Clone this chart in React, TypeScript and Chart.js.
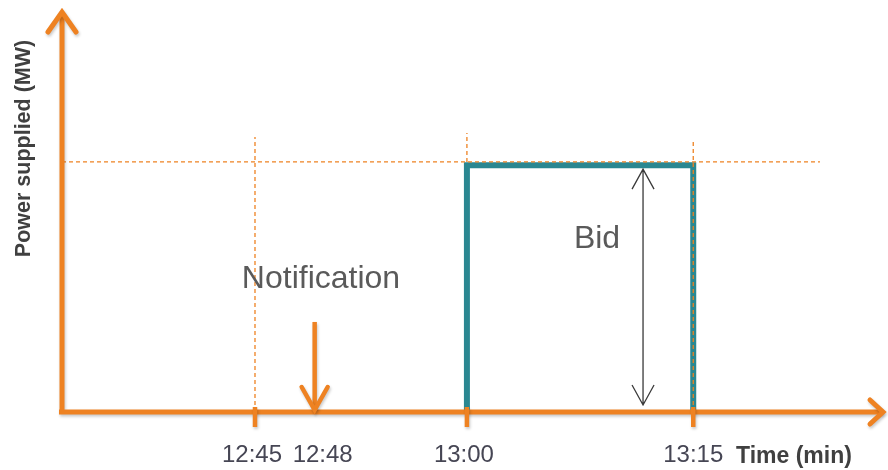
import React, { useEffect, useRef } from "react";
import { Chart, registerables } from "chart.js";

Chart.register(...registerables);

// Schematic x positions (not to scale) on a 0..100 axis
const tickLabels = ["12:45", "12:48", "13:00", "13:15"];
const tickPositions = [23.45, 30.7, 49.2, 76.7];
const tickMarked = [true, false, true, true];
const dropLineTops = [68.4, null, 69.4, 67.2];
const bidLevel = 61.4;
const bidGuideLevel = 62.2;
const bidStartIndex = 2; // 13:00
const bidEndIndex = 3; // 13:15
const bidDashEnd = 92.1;
const notificationIndex = 1; // 12:48
const notificationArrowTop = 22.4;
const bidArrowX = 70.6;

const ORANGE = "#EE8222";
const TEAL = "#2A8791";
const FONT = "'Liberation Sans', Arial, sans-serif";

export default function App() {
  const ref = useRef<HTMLCanvasElement | null>(null);

  useEffect(() => {
    if (!ref.current) return;
    const xs = tickPositions[bidStartIndex];
    const xe = tickPositions[bidEndIndex];

    const dashed: any[] = [];
    dashed.push({
      data: [
        { x: 0, y: bidGuideLevel },
        { x: bidDashEnd, y: bidGuideLevel },
      ],
      borderColor: ORANGE,
      borderWidth: 1.3,
      borderDash: [4, 3],
      pointRadius: 0,
      order: 1,
    });
    dropLineTops.forEach((top, i) => {
      if (top == null) return;
      const bottom = i === bidStartIndex ? bidGuideLevel : 0;
      dashed.push({
        data: [
          { x: tickPositions[i], y: bottom },
          { x: tickPositions[i], y: top },
        ],
        borderColor: ORANGE,
        borderWidth: 1.3,
        borderDash: [4, 3],
        pointRadius: 0,
        order: 1,
      });
    });

    const overlay = {
      id: "overlay",
      afterDatasetsDraw(chart: any) {
        const ctx = chart.ctx as CanvasRenderingContext2D;
        const x = chart.scales.x;
        const y = chart.scales.y;
        const X = (v: number) => x.getPixelForValue(v);
        const Y = (v: number) => y.getPixelForValue(v);
        const x0 = X(0);
        const y0 = Y(0);
        const xMax = X(100);
        const yMax = Y(100);

        ctx.save();
        // Bid double arrow
        ctx.strokeStyle = "#3a3a3a";
        ctx.lineWidth = 1.3;
        const bx = X(bidArrowX);
        const bt = Y(bidLevel) + 4;
        const bb = y0 - 7;
        ctx.beginPath();
        ctx.moveTo(bx, bt);
        ctx.lineTo(bx, bb);
        ctx.moveTo(bx - 11, bt + 20);
        ctx.lineTo(bx, bt);
        ctx.lineTo(bx + 11, bt + 20);
        ctx.moveTo(bx - 11, bb - 20);
        ctx.lineTo(bx, bb);
        ctx.lineTo(bx + 11, bb - 20);
        ctx.stroke();

        // orange axes with shadow
        ctx.shadowColor = "rgba(0,0,0,0.22)";
        ctx.shadowBlur = 3;
        ctx.shadowOffsetY = 2;
        ctx.shadowOffsetX = 1;
        ctx.strokeStyle = ORANGE;
        ctx.lineWidth = 5;
        ctx.lineCap = "butt";
        ctx.lineJoin = "miter";
        ctx.beginPath();
        ctx.moveTo(x0, y0 + 2);
        ctx.lineTo(x0, yMax + 2);
        ctx.moveTo(x0 - 3, y0);
        ctx.lineTo(xMax - 2, y0);
        ctx.stroke();
        // arrowheads
        ctx.lineCap = "round";
        ctx.beginPath();
        ctx.moveTo(x0 - 14, yMax + 22);
        ctx.lineTo(x0, yMax + 2);
        ctx.lineTo(x0 + 14, yMax + 22);
        ctx.moveTo(xMax - 15, y0 - 12);
        ctx.lineTo(xMax - 2, y0);
        ctx.lineTo(xMax - 15, y0 + 12);
        ctx.stroke();
        // tick marks
        ctx.lineCap = "butt";
        ctx.lineWidth = 4.5;
        ctx.beginPath();
        tickPositions.forEach((p, i) => {
          if (!tickMarked[i]) return;
          ctx.moveTo(X(p), y0 - 5);
          ctx.lineTo(X(p), y0 + 15);
        });
        ctx.stroke();
        // notification arrow
        const nx = X(tickPositions[notificationIndex]);
        ctx.lineWidth = 4.5;
        ctx.beginPath();
        ctx.moveTo(nx, Y(notificationArrowTop));
        ctx.lineTo(nx, y0 - 3);
        ctx.stroke();
        ctx.lineCap = "round";
        ctx.beginPath();
        ctx.moveTo(nx - 13, y0 - 25);
        ctx.lineTo(nx, y0 - 2);
        ctx.lineTo(nx + 13, y0 - 25);
        ctx.stroke();
        ctx.restore();

        // texts
        ctx.save();
        ctx.fillStyle = "#464654";
        ctx.font = `24px ${FONT}`;
        ctx.textAlign = "center";
        ctx.textBaseline = "alphabetic";
        tickPositions.forEach((p, i) => {
          const off = i === 0 ? -3 : i === 1 ? 8 : i === 2 ? -3 : 0;
          ctx.fillText(tickLabels[i], X(p) + off, 462);
        });
        ctx.fillStyle = "#404040";
        ctx.font = `bold 23px ${FONT}`;
        ctx.textAlign = "left";
        ctx.fillText("Time (min)", 736, 463);

        ctx.fillStyle = "#5a5a5a";
        ctx.font = `32px ${FONT}`;
        ctx.textAlign = "center";
        ctx.fillText("Notification", 321, 288);
        ctx.fillText("Bid", 597, 248);

        ctx.translate(30, 148.5);
        ctx.rotate(-Math.PI / 2);
        ctx.fillStyle = "#404040";
        ctx.font = `bold 21.5px ${FONT}`;
        ctx.textAlign = "center";
        ctx.fillText("Power supplied (MW)", 0, 0);
        ctx.restore();
      },
    };

    const chart = new Chart(ref.current, {
      type: "line",
      data: {
        datasets: [
          ...dashed,
          {
            data: [
              { x: xs, y: 0 },
              { x: xs, y: bidLevel },
              { x: xe, y: bidLevel },
              { x: xe, y: 0 },
            ],
            borderColor: TEAL,
            borderWidth: 6,
            pointRadius: 0,
            borderJoinStyle: "miter",
            order: 2,
          },
        ],
      },
      options: {
        responsive: false,
        animation: false,
        layout: { padding: { left: 62, top: 10, right: 3, bottom: 58 } },
        datasets: { line: { clip: false as any } } as any,
        scales: {
          x: { type: "linear", min: 0, max: 100, display: false },
          y: { type: "linear", min: 0, max: 100, display: false },
        },
        plugins: {
          legend: { display: false },
          tooltip: { enabled: false },
        },
      },
      plugins: [overlay],
    });
    return () => chart.destroy();
  }, []);

  return (
    <div style={{ position: "absolute", left: 0, top: 0, width: 888, height: 470, background: "#fff" }}>
      <canvas ref={ref} width={888} height={470} style={{ display: "block" }} />
    </div>
  );
}
